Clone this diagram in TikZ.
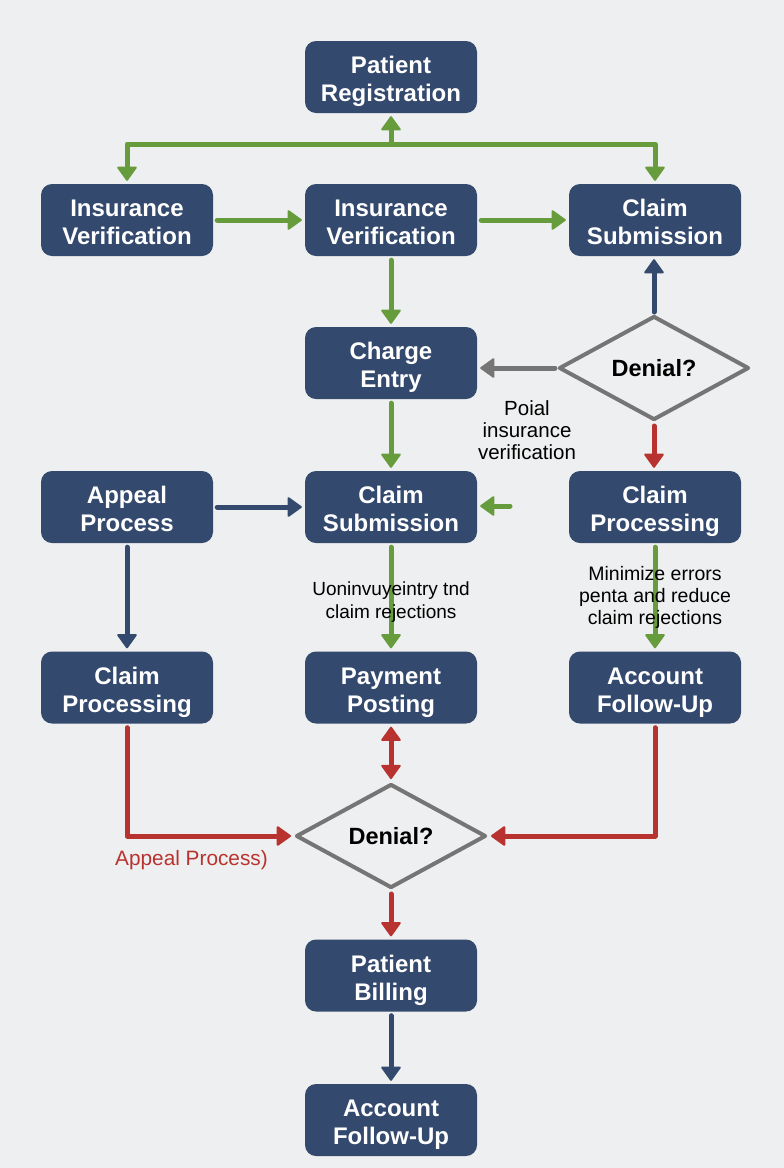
\documentclass[tikz,border=0pt]{standalone}
\usepackage{fontspec}
\setmainfont{Liberation Sans}
\usetikzlibrary{arrows.meta,shapes.geometric}
\definecolor{pagebg}{HTML}{EEEFF0}
\definecolor{boxblue}{HTML}{34496E}
\definecolor{flowgreen}{HTML}{669C3C}
\definecolor{flowred}{HTML}{B8322F}
\definecolor{flowgray}{HTML}{757575}
\tikzset{
  stepbox/.style={rectangle,rounded corners=11pt,fill=boxblue,text=white,minimum width=172pt,minimum height=72pt,inner sep=0pt,align=center,text height=50pt,text depth=1pt,font=\fontsize{24}{28}\selectfont\bfseries},
  decision/.style={diamond,draw=flowgray,line width=4pt,line join=round,aspect=1.83,minimum width=190pt,minimum height=104pt,inner sep=0pt,text=black,font=\fontsize{23.5}{28}\selectfont\bfseries},
  headtip/.tip={Triangle[round,width=21pt,length=15pt,line width=2pt]},
  flow/.style={draw=#1,line width=5pt,line cap=round,line join=round,-headtip,color=#1,shorten >=3pt,shorten <=4pt},
  note/.style={align=center,inner sep=0pt,text=black,font=\fontsize{19.5}{22}\selectfont},
}
\begin{document}
\begin{tikzpicture}[x=1pt,y=-1pt]
\useasboundingbox (0,0) rectangle (784,1168);
\fill[pagebg] (0,0) rectangle (784,1168);
% nodes
\node[stepbox] (reg) at (391,77) {Patient\\Registration};
\node[stepbox] (ver1) at (127,220) {Insurance\\Verification};
\node[stepbox] (ver2) at (391,220) {Insurance\\Verification};
\node[stepbox] (sub1) at (655,220) {Claim\\Submission};
\node[stepbox] (charge) at (391,363) {Charge\\Entry};
\node[decision] (den1) at (654,368) {Denial?};
\node[stepbox] (appeal) at (127,507) {Appeal\\Process};
\node[stepbox] (sub2) at (391,507) {Claim\\Submission};
\node[stepbox] (proc1) at (655,507) {Claim\\Processing};
\node[stepbox] (proc2) at (127,687.5) {Claim\\Processing};
\node[stepbox] (pay) at (391,687.5) {Payment\\Posting};
\node[stepbox] (acct1) at (655,687.5) {Account\\Follow-Up};
\node[decision] (den2) at (391,836) {Denial?};
\node[stepbox] (bill) at (391,975.5) {Patient\\Billing};
\node[stepbox] (acct2) at (391,1120) {Account\\Follow-Up};
\coordinate (junction) at (391,144);
\coordinate (stub) at (510,506);
% connectors
\draw[flow=flowgreen,shorten <=0pt] (junction) -- (reg.south);
\draw[flow=flowgreen,shorten <=0pt] (junction) -| (ver1.north);
\draw[flow=flowgreen,shorten <=0pt] (junction) -| (sub1.north);
\draw[flow=flowgreen] (ver1) -- (ver2);
\draw[flow=flowgreen] (ver2) -- (sub1);
\draw[flow=flowgreen] (ver2) -- (charge);
\draw[flow=boxblue,shorten <=2pt] (den1.north) -- (den1.north |- sub1.south);
\draw[flow=flowgray,shorten <=2pt] (den1.west) -- (charge.east |- den1.west);
\draw[flow=flowred,shorten <=4pt] (den1.south) -- (den1.south |- proc1.north);
\draw[flow=flowgreen] (charge) -- (sub2);
\draw[flow=boxblue] (appeal) -- (sub2);
\draw[flow=flowgreen,shorten <=0pt] (stub) -- (sub2.east |- stub);
\draw[flow=flowgreen] (sub2) -- (pay);
\draw[flow=flowgreen] (proc1) -- (acct1);
\draw[flow=boxblue] (appeal) -- (proc2);
\draw[flow=flowred] (proc2.south) |- (den2.west);
\draw[flow=flowred] (acct1.south) |- (den2.east);
\draw[flow=flowred,headtip-headtip,shorten <=3pt] (pay.south) -- (den2.north);
\draw[flow=flowred,shorten <=4pt] (den2.south) -- (bill.north);
\draw[flow=boxblue] (bill) -- (acct2);
% labels
\node[note,font=\fontsize{20.5}{22}\selectfont] (poial) at (527,430) {Poial\\insurance\\verification};
\node[note,font=\fontsize{19}{23}\selectfont] (uni) at (391,602) {Uoninvuyeintry tnd\\claim rejections};
\node[note] (mini) at (655,597) {Minimize errors\\penta and reduce\\claim rejections};
\node[note,text=flowred,font=\fontsize{20.8}{24}\selectfont] (appl) at (191.5,860) {Appeal Process)};
\end{tikzpicture}
\end{document}
